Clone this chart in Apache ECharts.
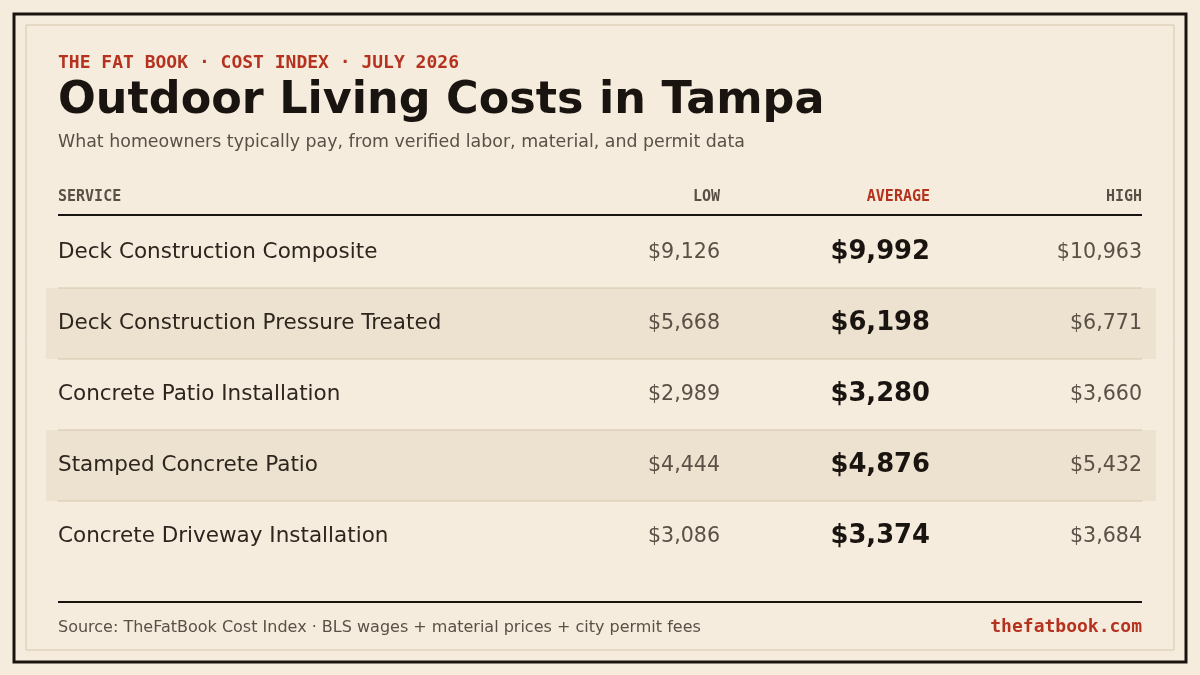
<!DOCTYPE html>
<html><head><meta charset="utf-8">
<script src="https://cdn.jsdelivr.net/npm/echarts@6/dist/echarts.min.js"></script>
<style>html,body{margin:0;padding:0;background:#f5ecdd}#c{width:1200px;height:675px}</style>
</head><body><div id="c"></div>
<script>
const services = ["Deck Construction Composite","Deck Construction Pressure Treated","Concrete Patio Installation","Stamped Concrete Patio","Concrete Driveway Installation"];
const lowVals = [9126,5668,2989,4444,3086];
const avgVals = [9992,6198,3280,4876,3374];
const highVals = [10963,6771,3660,5432,3684];
const headers = ["SERVICE","LOW","AVERAGE","HIGH"];

const fmt = v => "$" + v.toLocaleString("en-US");
const sans = "DejaVu Sans", mono = "DejaVu Sans Mono";
const g = [];
g.push({type:'rect',z:0,shape:{x:14,y:14,width:1172,height:648},style:{fill:'#f5ecdd',stroke:'#1a1410',lineWidth:3}});
g.push({type:'rect',z:1,shape:{x:26,y:25,width:1148,height:625},style:{fill:'none',stroke:'#d6c6aa',lineWidth:1}});
function txt(x,y,t,size,color,weight,family,align){
  g.push({type:'text',z:5,x:x,y:y,style:{text:t,font:(weight||'normal')+' '+size+'px "'+(family||sans)+'"',fill:color,align:align||'left',verticalAlign:'middle'}});
}
txt(58,63,"THE FAT BOOK · COST INDEX · JULY 2026",18,'#b5321f','bold',mono);
txt(58,101,"Outdoor Living Costs in Tampa",44.5,'#1a1410','bold');
txt(58,142,"What homeowners typically pay, from verified labor, material, and permit data",17.4,'#5a5046');
const hx=[58,720,930,1142], ha=['left','right','right','right'];
headers.forEach((h,i)=>txt(hx[i],197,h,15,i===2?'#b5321f':'#5a5046','bold',mono,ha[i]));
g.push({type:'line',z:3,shape:{x1:58,y1:215,x2:1142,y2:215},style:{stroke:'#1a1410',lineWidth:2}});
services.forEach((s,i)=>{
  const cy=252.5+71*i;
  if(i%2===1) g.push({type:'rect',z:2,shape:{x:46,y:cy-35.5,width:1110,height:71},style:{fill:'#ede2cf'}});
  if(i>0) g.push({type:'line',z:3,shape:{x1:58,y1:cy-35.5,x2:1142,y2:cy-35.5},style:{stroke:'#d6c6aa',lineWidth:1}});
  txt(58,cy,s,21.5,'#2e261e');
  txt(720,cy+0.5,fmt(lowVals[i]),20.6,'#5a5046',null,null,'right');
  txt(930,cy,fmt(avgVals[i]),25.8,'#1a1410','bold',null,'right');
  txt(1142,cy+0.5,fmt(highVals[i]),20.6,'#5a5046',null,null,'right');
});
g.push({type:'line',z:3,shape:{x1:58,y1:602,x2:1142,y2:602},style:{stroke:'#1a1410',lineWidth:2}});
txt(58,628,"Source: TheFatBook Cost Index · BLS wages + material prices + city permit fees",16,'#5a5046');
txt(1142,627,"thefatbook.com",18,'#b5321f','bold',mono,'right');
const chart=echarts.init(document.getElementById('c'));
chart.setOption({backgroundColor:'#f5ecdd',animation:false,graphic:{elements:g}});
</script></body></html>
